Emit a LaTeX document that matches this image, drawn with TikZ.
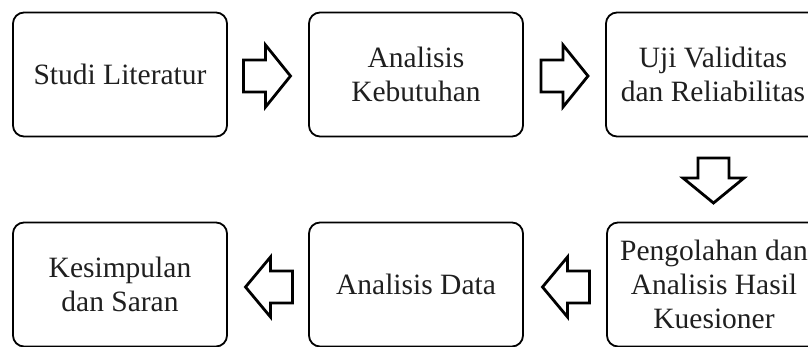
\documentclass[tikz,border=0pt]{standalone}
\usepackage{fontspec}
\setmainfont{Liberation Serif}
\usetikzlibrary{calc}
\tikzset{
  box/.style={draw, line width=1.8pt, rounded corners=11pt, minimum width=214pt,
    minimum height=124pt, align=center, inner sep=0pt, text=black!88,
    font=\fontsize{29.5}{34}\selectfont},
  barrow/.style={draw, fill=white, line width=2.8pt, line join=miter}
}
\begin{document}
\begin{tikzpicture}[x=1pt,y=-1pt]
\useasboundingbox (0,0) rectangle (808,347);
\clip (0,0) rectangle (808,347);
\node[box] (b1) at (120,74.5) {Studi Literatur};
\node[box] (b2) at (416,74.5) {Analisis\\Kebutuhan};
\node[box] (b3) at (713,74.5) {Uji Validitas\\dan Reliabilitas};
\node[box] (b6) at (714,284.5) {Pengolahan dan\\Analisis Hasil\\Kuesioner};
\node[box] (b5) at (416,284.5) {Analisis Data};
\node[box] (b4) at (120,284.5) {Kesimpulan\\dan Saran};
\coordinate (m1) at ($(b1.east)!0.5!(b2.west)+(-1,1.5)$);
\coordinate (m2) at ($(b2.east)!0.5!(b3.west)+(0,1.5)$);
\coordinate (m3) at ($(b3.south)!0.5!(b6.north)+(0,1)$);
\coordinate (m4) at ($(b6.west)!0.5!(b5.east)+(1,2.5)$);
\coordinate (m5) at ($(b5.west)!0.5!(b4.east)+(1,2.5)$);
% right arrows
\draw[barrow] ([shift={(-23.5,-16)}]m1) -- ++(22,0) -- ++(0,-15) -- ++(25,31) -- ++(-25,31) -- ++(0,-15) -- ++(-22,0) -- cycle;
\draw[barrow] ([shift={(-23.5,-16)}]m2) -- ++(22,0) -- ++(0,-15) -- ++(25,31) -- ++(-25,31) -- ++(0,-15) -- ++(-22,0) -- cycle;
% down arrow
\draw[barrow] ([shift={(-15.5,-22.5)}]m3) -- ++(0,20) -- ++(-15,0) -- ++(30.5,25) -- ++(30.5,-25) -- ++(-15,0) -- ++(0,-20) -- cycle;
% left arrows
\draw[barrow] ([shift={(23.5,-16)}]m4) -- ++(-22,0) -- ++(0,-14) -- ++(-25,30) -- ++(25,30) -- ++(0,-14) -- ++(22,0) -- cycle;
\draw[barrow] ([shift={(23.5,-16)}]m5) -- ++(-22,0) -- ++(0,-14) -- ++(-25,30) -- ++(25,30) -- ++(0,-14) -- ++(22,0) -- cycle;
\end{tikzpicture}
\end{document}
